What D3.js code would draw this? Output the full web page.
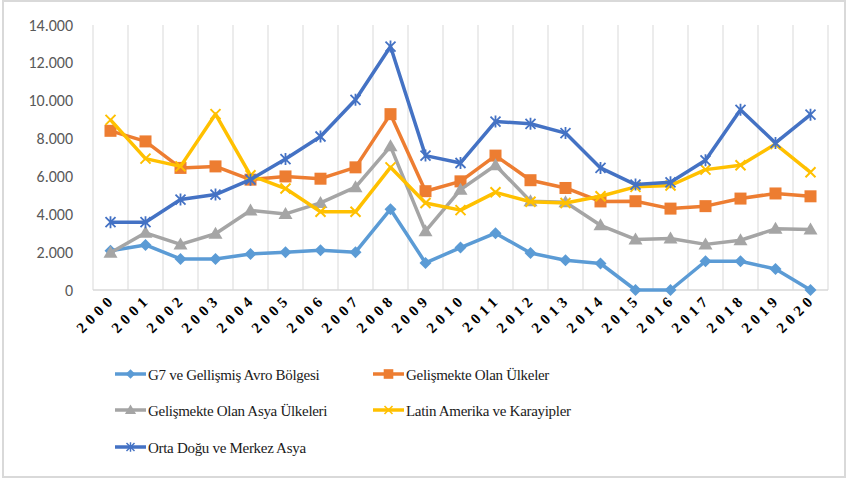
<!DOCTYPE html>
<html>
<head>
<meta charset="utf-8">
<script src="https://cdn.jsdelivr.net/npm/d3@7"></script>
<style>
  body { margin: 0; background: #fff; }
  svg { display: block; }
  .serif { font-family: "Liberation Serif", "DejaVu Serif", "Times New Roman", serif; }
</style>
</head>
<body>
<div id="chartArea"></div>
<script>
const years = ["2000","2001","2002","2003","2004","2005","2006","2007","2008","2009","2010",
               "2011","2012","2013","2014","2015","2016","2017","2018","2019","2020"];

const g7Values = [2070, 2380, 1640, 1640, 1900, 2000, 2100, 2000, 4270, 1430, 2240,
                  3000, 1950, 1570, 1400, 0, 0, 1520, 1520, 1110, 0];
const developingValues = [8410, 7850, 6450, 6530, 5830, 6000, 5880, 6480, 9290, 5220, 5740,
                          7100, 5800, 5390, 4680, 4690, 4300, 4430, 4830, 5100, 4950];
const asiaValues = [1970, 3020, 2410, 2970, 4200, 4020, 4600, 5430, 7590, 3110, 5300,
                    6590, 4690, 4640, 3420, 2670, 2720, 2410, 2630, 3230, 3200];
const latinValues = [8990, 6940, 6530, 9290, 6060, 5360, 4130, 4130, 6480, 4600, 4220,
                     5160, 4660, 4600, 4950, 5450, 5520, 6360, 6590, 7710, 6220];
const middleEastValues = [3580, 3580, 4780, 5040, 5830, 6920, 8110, 10050, 12860, 7100, 6710,
                          8900, 8780, 8290, 6450, 5570, 5690, 6850, 9520, 7770, 9260];

const seriesNames = ["G7 ve Gellişmiş Avro Bölgesi", "Gelişmekte Olan Ülkeler",
                     "Gelişmekte Olan Asya Ülkeleri", "Latin Amerika ve Karayipler",
                     "Orta Doğu ve Merkez Asya"];
const seriesValues = [g7Values, developingValues, asiaValues, latinValues, middleEastValues];
const seriesColors = ["#5B9BD5", "#ED7D31", "#A5A5A5", "#FFC000", "#4472C4"];
const seriesMarkers = ["diamond", "square", "triangle", "x", "star"];
const yTicks = [0, 2000, 4000, 6000, 8000, 10000, 12000, 14000];

const width = 848, height = 479;
const plot = { left: 93, right: 828, top: 25, bottom: 290 };

const svg = d3.select("#chartArea")
    .append("svg")
    .attr("width", width)
    .attr("height", height);

svg.append("rect")
    .attr("x", 3).attr("y", 1)
    .attr("width", 842).attr("height", 476)
    .attr("fill", "#fff")
    .attr("stroke", "#d9d9d9")
    .attr("stroke-width", 2);

const xScale = d3.scaleBand()
    .domain(years)
    .range([plot.left, plot.right]);

const yScale = d3.scaleLinear()
    .domain([0, 14000])
    .range([plot.bottom, plot.top]);

// vertical grid lines at category borders
const borders = years.map(d => xScale(d)).concat([plot.right]);
svg.append("g")
    .selectAll("line")
    .data(borders)
    .join("line")
    .attr("x1", d => d).attr("x2", d => d)
    .attr("y1", plot.top).attr("y2", plot.bottom)
    .attr("stroke", "#d9d9d9")
    .attr("stroke-width", 1);

svg.append("line")
    .attr("x1", plot.left).attr("x2", plot.right)
    .attr("y1", plot.bottom).attr("y2", plot.bottom)
    .attr("stroke", "#d9d9d9")
    .attr("stroke-width", 1.5);

// y axis labels
const fmt = d3.formatLocale({ decimal: ",", thousands: ".", grouping: [3], currency: ["", ""] }).format(",d");
const yAxis = d3.axisLeft(yScale)
    .tickValues(yTicks)
    .tickSize(0)
    .tickPadding(20)
    .tickFormat(fmt);

svg.append("g")
    .attr("transform", `translate(${plot.left},0)`)
    .call(yAxis)
    .call(g => g.select(".domain").remove())
    .selectAll("text")
    .attr("font-family", "Carlito, 'Liberation Sans', sans-serif")
    .attr("font-size", 16)
    .attr("fill", "#595959");

// x axis labels
const xAxis = d3.axisBottom(xScale).tickSize(0).tickPadding(0);
const xAxisGroup = svg.append("g")
    .attr("transform", `translate(0,${plot.bottom})`)
    .call(xAxis)
    .call(g => g.select(".domain").remove())
    .attr("font-family", null)
    .attr("font-size", null);

xAxisGroup.selectAll("text")
    .attr("class", "serif")
    .attr("font-size", 15)
    .attr("font-weight", 700)
    .attr("letter-spacing", 4.5)
    .attr("text-anchor", "end")
    .attr("fill", "#000")
    .attr("dy", "0")
    .attr("transform", "translate(6,10) rotate(-45)");

// marker shapes
function drawMarker(g, type, color) {
    if (type === "diamond") {
        g.append("path").attr("d", "M0,-6L6,0L0,6L-6,0Z").attr("fill", color);
    } else if (type === "square") {
        g.append("rect").attr("x", -6).attr("y", -6).attr("width", 12).attr("height", 12).attr("fill", color);
    } else if (type === "triangle") {
        g.append("path").attr("d", "M0,-7L7,5L-7,5Z").attr("fill", color);
    } else if (type === "x") {
        g.append("path").attr("d", "M-5,-5L5,5M-5,5L5,-5").attr("stroke", color).attr("stroke-width", 2);
    } else if (type === "star") {
        g.append("path").attr("d", "M-5,-5L5,5M-5,5L5,-5M0,-6L0,6").attr("stroke", color).attr("stroke-width", 1.8);
    }
}

const line = d3.line()
    .x((d, i) => xScale(years[i]) + xScale.bandwidth() / 2)
    .y(d => yScale(d));

seriesValues.forEach((values, s) => {
    svg.append("path")
        .attr("d", line(values))
        .attr("fill", "none")
        .attr("stroke", seriesColors[s])
        .attr("stroke-width", 3.5)
        .attr("stroke-linejoin", "round");

    values.forEach((v, i) => {
        const g = svg.append("g")
            .attr("transform", `translate(${xScale(years[i]) + xScale.bandwidth() / 2},${yScale(v)})`);
        drawMarker(g, seriesMarkers[s], seriesColors[s]);
    });
});

// legend
const legendPos = [[115, 374], [373, 374], [115, 410], [373, 410], [115, 447]];
seriesNames.forEach((name, s) => {
    const [lx, ly] = legendPos[s];
    const g = svg.append("g").attr("transform", `translate(${lx},${ly})`);
    g.append("line")
        .attr("x1", 0).attr("x2", 31)
        .attr("y1", 0).attr("y2", 0)
        .attr("stroke", seriesColors[s])
        .attr("stroke-width", 3.5);
    const m = g.append("g").attr("transform", "translate(15.5,0) scale(0.8)");
    drawMarker(m, seriesMarkers[s], seriesColors[s]);
    g.append("text")
        .attr("class", "serif")
        .attr("x", 33)
        .attr("y", 6)
        .attr("font-size", 15)
        .attr("letter-spacing", -0.3)
        .attr("fill", "#1a1a1a")
        .text(name);
});
</script>
</body>
</html>
